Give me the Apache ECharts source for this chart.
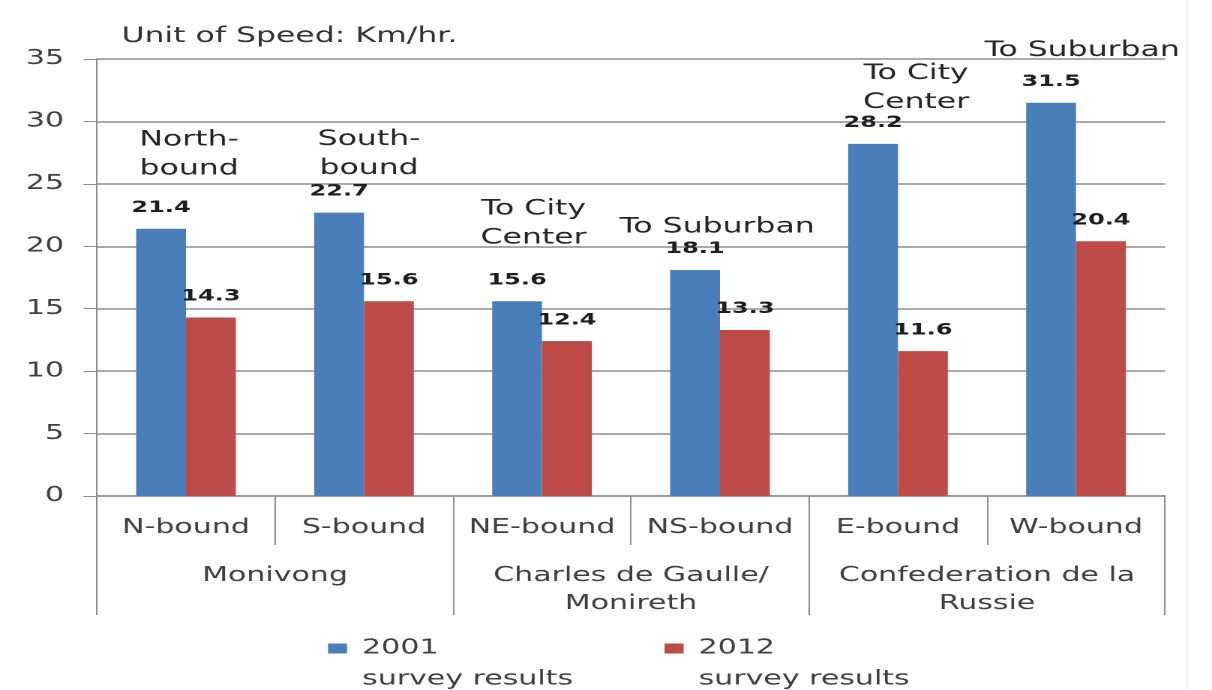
<!DOCTYPE html>
<html>
<head>
<meta charset="utf-8">
<script src="https://cdn.jsdelivr.net/npm/echarts@6/dist/echarts.min.js"></script>
<style>
html, body { margin: 0; padding: 0; background: #fff; overflow: hidden; }
/* the reference is a horizontally stretched picture, so the chart is drawn narrow and stretched */
#main { width: 808px; height: 690px; transform: scaleX(1.5); transform-origin: 0 0; }
</style>
</head>
<body>
<div id="main"></div>
<script>
// data
var categories = ['N-bound', 'S-bound', 'NE-bound', 'NS-bound', 'E-bound', 'W-bound'];
var roads = ['Monivong', 'Charles de Gaulle/\nMonireth', 'Confederation de la\nRussie'];
var speed2001 = [21.4, 22.7, 15.6, 18.1, 28.2, 31.5];
var speed2012 = [14.3, 15.6, 12.4, 13.3, 11.6, 20.4];
var directionNotes = ['North-\nbound', 'South-\nbound', 'To City\nCenter', 'To Suburban', 'To City\nCenter', 'To Suburban'];
var seriesNames = ['2001\nsurvey results', '2012\nsurvey results'];

// where each direction note sits, relative to the top of the 2001 bar
var noteOffsets = [[18.7, -74.5], [20, -58.5], [11, -77.5], [14.7, -43], [28.7, -56], [20.7, -52]];

var font = 'DejaVu Sans';
var gridGray = '#8c8c8c';
var textGray = '#404040';

var valueLabel = {
	show: true,
	position: 'top',
	distance: 13,
	fontFamily: font,
	fontSize: 16,
	fontWeight: 'bold',
	color: '#1e1e1e'
};

function noteMarks() {
	var arr = [];
	for (var i = 0; i < categories.length; i++) {
		arr.push({
			coord: [categories[i], speed2001[i]],
			label: {
				formatter: directionNotes[i],
				offset: noteOffsets[i]
			}
		});
	}
	return arr;
}

// square on top, an empty stretch below so the icon sits by the first text line
var legendIcon = 'path://M0,0L12.7,0L12.7,10L0,10Z M0,41L12.7,41Z';

var chart = echarts.init(document.getElementById('main'), null, {devicePixelRatio: 2});

var option = {
	animation: false,
	title: {
		text: 'Unit of Speed: Km/hr.',
		left: 81,
		top: 26,
		padding: 0,
		textStyle: {fontFamily: font, fontSize: 21, fontWeight: 'normal', color: '#333'}
	},
	legend: {
		left: 218.7,
		top: 633,
		padding: 0,
		itemWidth: 12.7,
		itemHeight: 41,
		itemGap: 61,
		icon: legendIcon,
		data: seriesNames,
		textStyle: {
			fontFamily: font,
			fontSize: 20,
			lineHeight: 31,
			color: textGray,
			padding: [0, 0, 0, 5]
		}
	},
	grid: {left: 64.67, right: 31.33, top: 59, bottom: 194},
	xAxis: [{
		type: 'category',
		data: categories,
		axisLine: {show: true, lineStyle: {color: gridGray, width: 1.5}},
		axisTick: {show: true, interval: 0, length: 49, lineStyle: {color: gridGray, width: 1}},
		axisLabel: {interval: 0, margin: 18, fontFamily: font, fontSize: 20, lineHeight: 28, color: textGray}
	}, {
		type: 'category',
		position: 'bottom',
		offset: 49,
		data: roads,
		axisLine: {show: false},
		axisTick: {show: true, interval: 0, length: 70, lineStyle: {color: gridGray, width: 1}},
		axisLabel: {interval: 0, margin: 17, fontFamily: font, fontSize: 20, lineHeight: 28, color: textGray}
	}],
	yAxis: {
		type: 'value',
		min: 0,
		max: 35,
		interval: 5,
		axisLine: {show: true, lineStyle: {color: gridGray, width: 1}},
		axisTick: {show: true, length: 9, lineStyle: {color: gridGray}},
		axisLabel: {margin: 22, fontFamily: font, fontSize: 20, color: textGray},
		splitLine: {lineStyle: {color: gridGray, width: 1.5}}
	},
	graphic: [{
		type: 'line',
		shape: {x1: 791.3, y1: 0, x2: 791.3, y2: 690},
		style: {stroke: '#ececec', lineWidth: 1}
	}],
	series: [{
		name: seriesNames[0],
		type: 'bar',
		xAxisIndex: 0,
		data: speed2001,
		barGap: '0%',
		barCategoryGap: '44%',
		itemStyle: {color: '#4A7EBB'},
		label: valueLabel,
		markPoint: {
			symbolSize: 0,
			label: {
				show: true,
				position: 'inside',
				fontFamily: font,
				fontSize: 21,
				lineHeight: 29,
				color: '#262626'
			},
			data: noteMarks()
		}
	}, {
		name: seriesNames[1],
		type: 'bar',
		xAxisIndex: 0,
		data: speed2012,
		itemStyle: {color: '#BE4B48'},
		label: valueLabel
	}]
};

chart.setOption(option);
</script>
</body>
</html>
